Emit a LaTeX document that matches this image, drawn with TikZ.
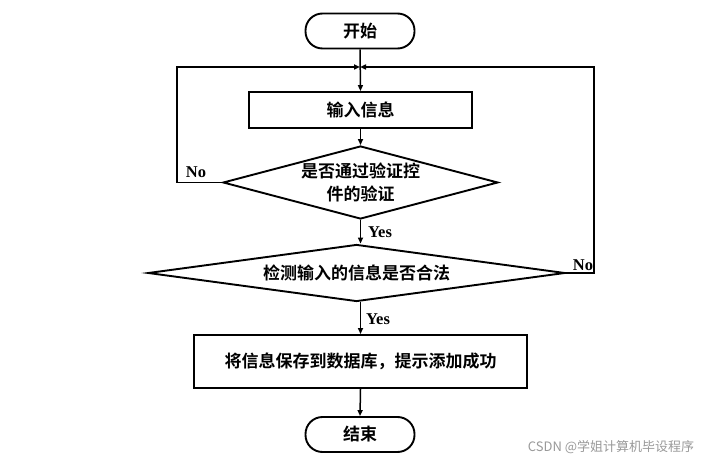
\documentclass[tikz,border=0pt]{standalone}
\usepackage{fontspec}
\setmainfont{Liberation Serif}
\newfontfamily\cjkb{Noto Sans CJK SC Bold}
\newfontfamily\cjkr{Noto Sans CJK SC}
\usetikzlibrary{shapes.geometric,arrows.meta}
\begin{document}
\begin{tikzpicture}[x=1pt,y=-1pt,
  box/.style={draw,line width=1.9pt,inner sep=0pt,font=\cjkb\fontsize{17}{20}\selectfont},
  term/.style={box,rounded corners=17pt,minimum width=109pt,minimum height=35pt},
  proc/.style={box},
  dec/.style={draw,line width=1.9pt,diamond,inner sep=0pt,align=center,font=\cjkb\fontsize{17}{23}\selectfont},
  conn/.style={line width=1.5pt},
  arr/.style={conn,-{Triangle[length=6pt,width=5pt]}},
  lbl/.style={font=\bfseries\fontsize{16.5}{18}\selectfont,inner sep=0pt}]
\useasboundingbox (0,0) rectangle (706,462);
\node[term] (start) at (360,31) {开始};
\node[proc,minimum width=223pt,minimum height=36pt] (input) at (360.5,110) {输入信息};
\node[dec,minimum width=275pt,minimum height=73pt,shape aspect=3.77] (d1) at (360.5,182.5) {是否通过验证控\\件的验证};
\node[dec,minimum width=417pt,minimum height=57pt,shape aspect=7.3] (d2) at (356.5,273) {检测输入的信息是否合法};
\node[proc,minimum width=333pt,minimum height=53pt] (save) at (360.5,361.5) {将信息保存到数据库，提示添加成功};
\node[term] (end) at (360,434.5) {结束};
\coordinate (j) at (360,67);
\coordinate (lc) at (177,67);
\coordinate (rc) at (594,67);
\draw[arr] (start.south) -- (input.north);
\draw[arr] (input.south) -- (d1.north);
\draw[arr] (d1.south) -- (d2.north -| d1.south);
\draw[arr] (d2.south -| save.north) -- (save.north);
\draw[arr] (save.south) -- (end.north);
\draw[arr] (d1.west) -| (lc) -- (j);
\draw[arr] (d2.east) -| (rc) -- (j);
\node[lbl] (no1) at (196,172) {No};
\node[lbl] (no2) at (583,265) {No};
\node[lbl] (yes1) at (380,232) {Yes};
\node[lbl] (yes2) at (378,319) {Yes};
\node[font=\cjkr\fontsize{13}{14}\selectfont,text=black!40,inner sep=0pt] (wm) at (611,447) {CSDN @学姐计算机毕设程序};
\end{tikzpicture}
\end{document}
